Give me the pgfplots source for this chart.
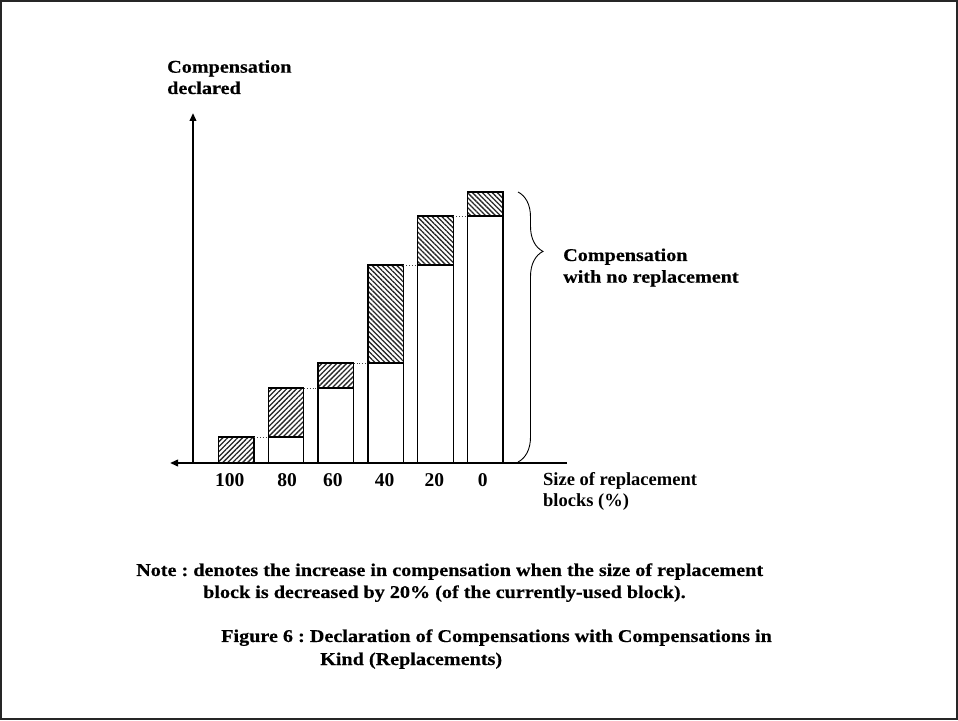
\documentclass[border=0pt]{standalone}
\usepackage{fontspec}
\setmainfont{Liberation Serif}
\newfontfamily\cent{Liberation Serif}[FakeStretch=1.12, FakeBold=0.4]
\usepackage{pgfplots}
\pgfplotsset{compat=1.18}
\usetikzlibrary{patterns.meta, arrows.meta, decorations.pathreplacing}

\newcommand\cfont{\frenchspacing\cent\bfseries\fontsize{18}{22}\selectfont}

\begin{document}
\begin{tikzpicture}[x=1pt, y=1pt]
\path[use as bounding box] (0,0) rectangle (958,720);
\draw[line width=2pt, black!85] (1,1) rectangle (957,719);

\begin{axis}[
    at={(170pt,257pt)}, anchor=south west,
    x=49.8pt, y=1pt,
    xmin=-0.331, xmax=7.641,
    ymin=0, ymax=350,
    hide y axis,
    x axis line style={draw=none},
    xtick={0.87,2.02,2.94,3.98,4.98,5.95},
    xticklabels={100,80,60,40,20,0},
    major tick length=0pt,
    xtick style={draw=none},
    xticklabel style={anchor=base, yshift=-23.5pt, font=\bfseries\fontsize{19.5}{20}\selectfont},
    clip=false,
]

% hatched part = full bar, white part drawn over it
\addplot[ybar, bar width=35.5pt, bar shift=0pt, draw=black, line width=1.3pt,
    pattern={Lines[angle=45, distance=3.5pt, line width=1.3pt]}, pattern color=black!85]
    coordinates {(1,26) (2,75) (3,100)};
\addplot[ybar, bar width=35.5pt, bar shift=0pt, draw=black, line width=1.3pt,
    pattern={Lines[angle=-45, distance=3.5pt, line width=1.3pt]}, pattern color=black!85]
    coordinates {(4,198) (5,247) (6,271)};
\addplot[ybar, bar width=35.5pt, bar shift=0pt, draw=black, line width=1.3pt, fill=white]
    coordinates {(2,26) (3,75) (4,100) (5,198) (6,247)};

% dotted links between bars
\addplot[dotted, line width=0.9pt, black!75, unbounded coords=jump] coordinates {
    (1.356,26) (1.644,26) (1.5,nan)
    (2.356,75) (2.644,75) (2.5,nan)
    (3.356,100) (3.644,100) (3.5,nan)
    (4.356,198) (4.644,198) (4.5,nan)
    (5.356,247) (5.644,247)
};

% axes
\draw[line width=2pt, -{Triangle[length=8pt, width=6.5pt]}] (axis cs:7.641,0) -- (axis cs:-0.331,0);
\draw[line width=2pt, -{Triangle[length=8pt, width=6.5pt]}] (axis cs:0.1305,0) -- (axis cs:0.1305,350);

% brace
\draw[line width=0.9pt, decorate, decoration={brace, amplitude=25pt, aspect=0.22}]
    (axis cs:6.657,271) -- (axis cs:6.657,1);
\end{axis}

\node[anchor=base west, inner sep=0pt, font=\cfont] at (167,647.3) {Compensation};
\node[anchor=base west, inner sep=0pt, font=\cfont] at (167,626) {declared};
\node[anchor=base west, inner sep=0pt, font=\cfont] at (563,459) {Compensation};
\node[anchor=base west, inner sep=0pt, font=\cfont] at (563,437.3) {with no replacement};
\node[anchor=base west, inner sep=0pt, font=\bfseries\fontsize{18.5}{20}\selectfont] at (543,234) {Size of replacement};
\node[anchor=base west, inner sep=0pt, font=\bfseries\fontsize{18.5}{20}\selectfont] at (543,213.5) {blocks (\%)};
\node[anchor=base west, inner sep=0pt, font=\cfont] at (136,144) {Note : denotes the increase in compensation when the size of replacement};
\node[anchor=base west, inner sep=0pt, font=\cfont] at (203,122) {block is decreased by 20\% (of the currently-used block).};
\node[anchor=base west, inner sep=0pt, font=\cfont] at (221,78) {Figure 6 : Declaration of Compensations with Compensations in};
\node[anchor=base west, inner sep=0pt, font=\cfont] at (320,55) {Kind\hspace{5pt}(Replacements)};
\end{tikzpicture}
\end{document}
